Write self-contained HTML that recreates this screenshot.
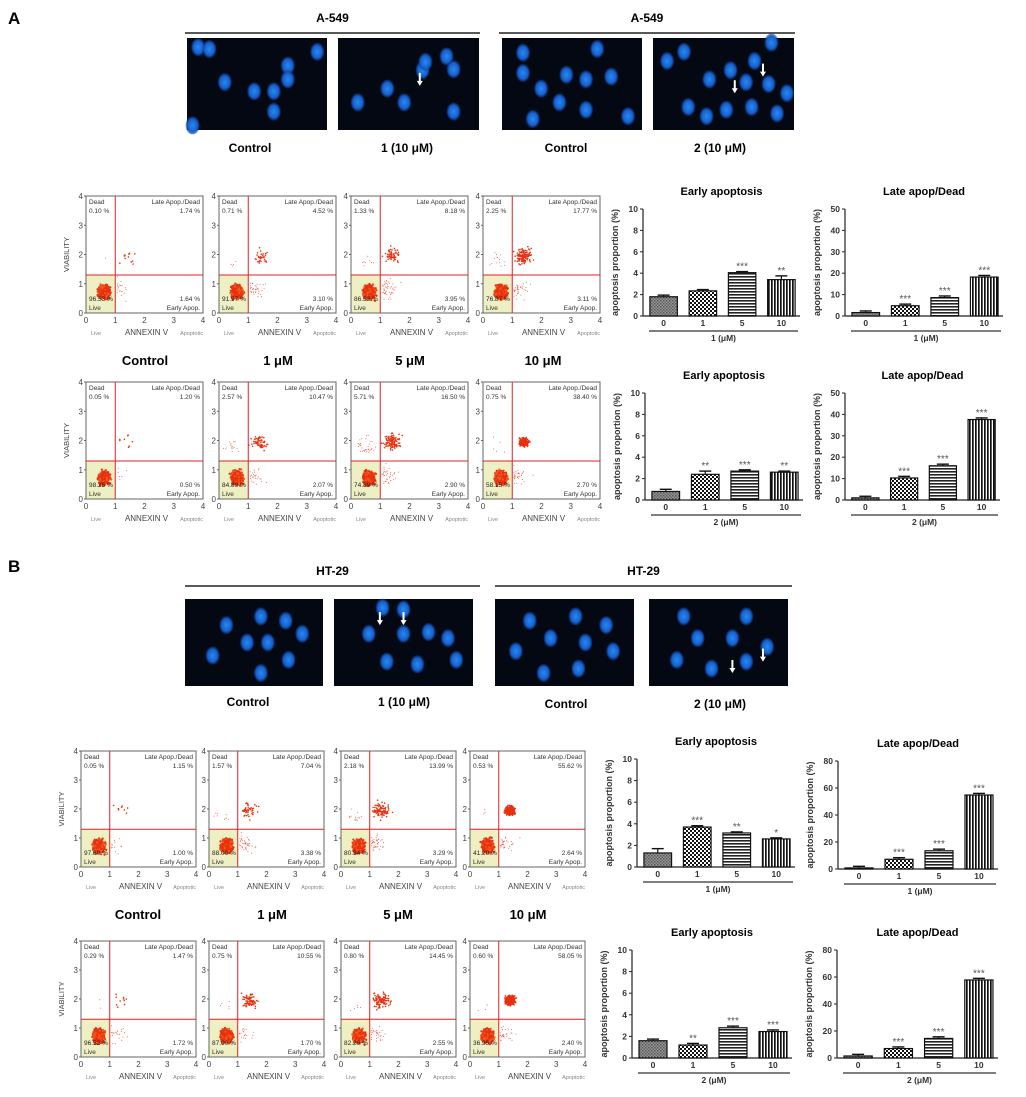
<!DOCTYPE html>
<html><head><meta charset="utf-8"><style>
body{margin:0;background:#fff}
svg{display:block;font-family:"Liberation Sans",Arial,sans-serif}
</style></head><body>
<svg id="fig" width="1026" height="1097" viewBox="0 0 1026 1097" xmlns="http://www.w3.org/2000/svg">
<defs>
<pattern id="p0" width="3" height="3" patternUnits="userSpaceOnUse"><rect width="3" height="3" fill="#999"/><rect width="1.5" height="1.5" fill="#555"/><rect x="1.5" y="1.5" width="1.5" height="1.5" fill="#666"/></pattern>
<pattern id="p1" width="4" height="4" patternUnits="userSpaceOnUse"><rect width="4" height="4" fill="#fff"/><rect width="2" height="2" fill="#111"/><rect x="2" y="2" width="2" height="2" fill="#111"/></pattern>
<pattern id="p5" width="4" height="3" patternUnits="userSpaceOnUse"><rect width="4" height="3" fill="#fff"/><rect width="4" height="1.6" fill="#222"/></pattern>
<pattern id="p10" width="3" height="4" patternUnits="userSpaceOnUse"><rect width="3" height="4" fill="#fff"/><rect width="1.7" height="4" fill="#111"/></pattern>
<radialGradient id="cellg"><stop offset="0" stop-color="#2a88f0"/><stop offset="0.7" stop-color="#1560cc"/><stop offset="1" stop-color="#0a3a90" stop-opacity="0.5"/></radialGradient>
</defs>
<g id="root"></g>
</svg>
<script>
// ---------- data ----------
const barCategories = ["0","1","5","10"];
const aEarly1 = [1.8, 2.35, 4.05, 3.4];
const aEarly1Err = [0.15, 0.12, 0.1, 0.35];
const aEarly1Stars = ["", "", "***", "**"];
const aLate1 = [1.6, 4.8, 8.6, 18.2];
const aLate1Stars = ["", "***", "***", "***"];
const aEarly2 = [0.8, 2.4, 2.7, 2.6];
const aEarly2Err = [0.2, 0.3, 0.12, 0.1];
const aEarly2Stars = ["", "**", "***", "**"];
const aLate2 = [1.0, 10.3, 16.0, 37.6];
const aLate2Stars = ["", "***", "***", "***"];
const bEarly1 = [1.3, 3.7, 3.15, 2.6];
const bEarly1Err = [0.4, 0.12, 0.1, 0.1];
const bEarly1Stars = ["", "***", "**", "*"];
const bLate1 = [0.8, 7.2, 13.5, 54.8];
const bLate1Stars = ["", "***", "***", "***"];
const bEarly2 = [1.6, 1.2, 2.8, 2.45];
const bEarly2Stars = ["", "**", "***", "***"];
const bLate2 = [1.5, 7.0, 14.5, 57.8];
const bLate2Stars = ["", "***", "***", "***"];
const earlyTicks = [0,2,4,6,8,10];
const lateTicksA = [0,10,20,30,40,50];
const lateTicksB = [0,20,40,60,80];

const flowDead = ["0.10","0.71","1.33","2.25","0.05","2.57","5.71","0.75","0.05","1.57","2.18","0.53","0.29","0.75","0.80","0.60"];
const flowLate = ["1.74","4.52","8.18","17.77","1.20","10.47","16.50","38.40","1.15","7.04","13.99","55.62","1.47","10.55","14.45","58.05"];
const flowLive = ["96.53","91.97","86.53","76.87","98.25","84.89","74.89","58.15","97.80","88.00","80.54","41.20","96.52","87.00","82.20","36.95"];
const flowEarly = ["1.64","3.10","3.95","3.11","0.50","2.07","2.90","2.70","1.00","3.38","3.29","2.64","1.72","1.70","2.55","2.40"];

// ---------- helpers ----------
const NS="http://www.w3.org/2000/svg";
const root=document.getElementById('root');
function mk(tag,attrs,parent,text){const e=document.createElementNS(NS,tag);for(const k in attrs)e.setAttribute(k,attrs[k]);if(text!==undefined)e.textContent=text;(parent||root).appendChild(e);return e;}
let seed=12345;function rnd(){seed=(seed*1103515245+12345)%2147483648;return seed/2147483648;}
function gauss(){return (rnd()+rnd()+rnd()+rnd()-2)/1.15;}

// ---------- headers & microscopy ----------
function panelLetter(t,x,y){const e=mk('text',{x:x,y:y,'font-size':17,'font-weight':'bold'},root,t);

}
panelLetter('A',8,24);panelLetter('B',8,572);

const cellSets=[
[[.08,.1],[.16,.12],[.93,.15],[.72,.3],[.72,.45],[.27,.48],[.48,.58],[.62,.58],[.62,.8],[.04,.95]],
[[.77,.2],[.6,.35],[.82,.34],[.35,.55],[.14,.7],[.47,.7],[.82,.8],[.62,.26]],
[[.15,.16],[.68,.12],[.15,.38],[.46,.4],[.6,.45],[.78,.42],[.28,.55],[.41,.7],[.6,.78],[.22,.88],[.9,.85]],
[[.1,.25],[.22,.15],[.55,.35],[.72,.25],[.84,.05],[.4,.45],[.66,.48],[.82,.5],[.95,.6],[.25,.75],[.38,.85],[.52,.78],[.7,.75],[.88,.82]],
[[.3,.3],[.55,.2],[.73,.25],[.45,.5],[.6,.5],[.85,.4],[.2,.65],[.75,.7],[.55,.85]],
[[.35,.1],[.5,.12],[.25,.4],[.5,.4],[.68,.38],[.82,.45],[.38,.72],[.6,.75],[.88,.7]],
[[.25,.25],[.58,.2],[.8,.3],[.4,.45],[.65,.5],[.15,.6],[.85,.6],[.35,.85],[.6,.8]],
[[.25,.2],[.7,.2],[.6,.45],[.35,.45],[.2,.7],[.45,.8],[.7,.72],[.85,.55]]
];
function micro(x,y,w,h,cells,name,arrows){
  const g=mk('g',{});
  
  
  mk('rect',{x:x,y:y,width:w,height:h,fill:'#040812'},g);
  cells.forEach(c=>{mk('ellipse',{cx:x+c[0]*w,cy:y+c[1]*h,rx:7,ry:9,fill:'url(#cellg)'},g);});
  (arrows||[]).forEach(a=>{mk('path',{d:`M${x+a[0]*w} ${y+a[1]*h} l-3 -5 l2 0 l0 -8 l2 0 l0 8 l2 0 z`,fill:'#fff'},g);});
}
function header(title,x1,x2,y,name){
  const g=mk('g',{});
  mk('text',{x:(x1+x2)/2,y:y,'text-anchor':'middle','font-size':12,'font-weight':'bold'},g,title);
  mk('line',{x1:x1,x2:x2,y1:y+11,y2:y+11,stroke:'#222','stroke-width':1.5},g);
}
function capt(t,x,y,name,size){const e=mk('text',{x:x,y:y,'text-anchor':'middle','font-size':size||12,'font-weight':'bold'},root,t);
}

header('A-549',185,480,22,'header-a549-1');header('A-549',499,795,22,'header-a549-2');
micro(187,38,140,92,cellSets[0],'image-a-control-1');
micro(338,38,141,92,cellSets[1],'image-a-cmpd1',[[.58,.52]]);
micro(502,38,140,92,cellSets[2],'image-a-control-2');
micro(653,38,141,92,cellSets[3],'image-a-cmpd2',[[.58,.6],[.78,.42]]);
capt('Control',250,152,'caption-a-control-1');capt('1 (10 μM)',407,152,'caption-a-cmpd1');
capt('Control',566,152,'caption-a-control-2');capt('2 (10 μM)',720,152,'caption-a-cmpd2');

header('HT-29',185,480,575,'header-ht29-1');header('HT-29',495,792,575,'header-ht29-2');
micro(185,599,138,87,cellSets[4],'image-b-control-1');
micro(334,599,139,87,cellSets[5],'image-b-cmpd1',[[.33,.3],[.5,.3]]);
micro(495,599,139,87,cellSets[6],'image-b-control-2');
micro(649,599,139,87,cellSets[7],'image-b-cmpd2',[[.6,.85],[.82,.72]]);
capt('Control',248,706,'caption-b-control-1');capt('1 (10 μM)',404,706,'caption-b-cmpd1');
capt('Control',566,708,'caption-b-control-2');capt('2 (10 μM)',720,708,'caption-b-cmpd2');

// ---------- flow plots ----------
function flow(i,x,y,w,h,showY){
  const g=mk('g',{});
  
  
  const sx=v=>x+v/4*w, sy=v=>y+h-v/4*h;
  mk('rect',{x:x,y:sy(1.3),width:sx(1)-x,height:y+h-sy(1.3),fill:'#eef0c4'},g);
  const late=parseFloat(flowLate[i]), early=parseFloat(flowEarly[i]), dead=parseFloat(flowDead[i]);
  for(let k=0;k<700;k++){mk('circle',{cx:sx(0.62+gauss()*0.17),cy:sy(0.72+gauss()*0.2),r:1.1,fill:k%3?'#e8300f':'#f05a20'},g);}
  const nl=Math.round(late*7);
  const tight=late>30?0.14:0.25;
  for(let k=0;k<nl;k++){mk('circle',{cx:sx(1.4+gauss()*tight*1.1),cy:sy(1.95+gauss()*tight),r:0.8,fill:'#e8300f'},g);}
  for(let k=0;k<Math.round(early*12);k++){mk('circle',{cx:sx(1.05+Math.abs(gauss())*0.5),cy:sy(0.8+gauss()*0.3),r:0.5,fill:'#e8503f'},g);}
  for(let k=0;k<Math.round(dead*6);k++){mk('circle',{cx:sx(0.5+gauss()*0.3),cy:sy(1.6+Math.abs(gauss())*0.5),r:0.5,fill:'#e8503f'},g);}
  mk('rect',{x:x,y:y,width:w,height:h,fill:'none',stroke:'#666','stroke-width':1},g);
  mk('line',{x1:sx(1),x2:sx(1),y1:y,y2:y+h,stroke:'#e02020','stroke-width':1},g);
  mk('line',{x1:x,x2:x+w,y1:sy(1.3),y2:sy(1.3),stroke:'#e02020','stroke-width':1},g);
  for(let t=0;t<=4;t++){
    mk('text',{x:x-3,y:sy(t)+3,'text-anchor':'end','font-size':8,fill:'#444'},g,String(t));
    mk('text',{x:sx(t),y:y+h+10,'text-anchor':'middle','font-size':8,fill:'#444'},g,String(t));
    mk('line',{x1:x-2,x2:x,y1:sy(t),y2:sy(t),stroke:'#666'},g);
  }
  const fs=6.5,fc='#333';
  mk('text',{x:x+3,y:y+8,'font-size':fs,fill:fc},g,'Dead');
  mk('text',{x:x+3,y:y+17,'font-size':fs,fill:fc},g,flowDead[i]+' %');
  mk('text',{x:x+w-3,y:y+8,'font-size':fs,fill:fc,'text-anchor':'end'},g,'Late Apop./Dead');
  mk('text',{x:x+w-3,y:y+17,'font-size':fs,fill:fc,'text-anchor':'end'},g,flowLate[i]+' %');
  mk('text',{x:x+3,y:y+h-12,'font-size':fs,fill:'#222'},g,flowLive[i]+' %');
  mk('text',{x:x+3,y:y+h-3,'font-size':fs,fill:fc},g,'Live');
  mk('text',{x:x+w-3,y:y+h-12,'font-size':fs,fill:fc,'text-anchor':'end'},g,flowEarly[i]+' %');
  mk('text',{x:x+w-3,y:y+h-3,'font-size':fs,fill:fc,'text-anchor':'end'},g,'Early Apop.');
  mk('text',{x:x+5,y:y+h+22,'font-size':5.5,fill:'#888'},g,'Live');
  mk('text',{x:x+w/2+2,y:y+h+22,'font-size':8,fill:'#444','text-anchor':'middle'},g,'ANNEXIN V');
  mk('text',{x:x+w,y:y+h+22,'font-size':5.5,fill:'#888','text-anchor':'end'},g,'Apoptotic');
  if(showY){mk('text',{x:0,y:0,'font-size':7.5,fill:'#444','text-anchor':'middle',transform:`translate(${x-17},${y+h/2}) rotate(-90)`},g,'VIABILITY');}
}
const flowXA=[86,219,351,483], flowXB=[81,209,341,470];
flowXA.forEach((x,j)=>flow(j,x,196,117,117,j===0));
flowXA.forEach((x,j)=>flow(4+j,x,382,117,117,j===0));
flowXB.forEach((x,j)=>flow(8+j,x,751,115,116,j===0));
flowXB.forEach((x,j)=>flow(12+j,x,941,115,116,j===0));
const doseLabels=['Control','1 μM','5 μM','10 μM'];
[145,278,410,543].forEach((cx,j)=>capt(doseLabels[j],cx,365,'dose-label-a-'+j,13));
[138,272,398,528].forEach((cx,j)=>capt(doseLabels[j],cx,919,'dose-label-b-'+j,13));

// ---------- bar charts ----------
function bars(name,ax,top,bot,xend,ticks,vals,errs,stars,title,unit){
  const g=mk('g',{});
  
  
  const ymax=ticks[ticks.length-1];
  const sy=v=>bot-(v/ymax)*(bot-top);
  const slot=(xend-ax)/4;
  const bw=slot*0.7;
  mk('text',{x:(ax+xend)/2,y:top-14,'text-anchor':'middle','font-size':11,'font-weight':'bold'},g,title);
  mk('line',{x1:ax,x2:ax,y1:top,y2:bot,stroke:'#222','stroke-width':1.2},g);
  mk('line',{x1:ax,x2:xend,y1:bot,y2:bot,stroke:'#222','stroke-width':1.2},g);
  ticks.forEach(t=>{mk('line',{x1:ax-3,x2:ax,y1:sy(t),y2:sy(t),stroke:'#222'},g);
    mk('text',{x:ax-5,y:sy(t)+3,'text-anchor':'end','font-size':8.5,'font-weight':'bold',fill:'#333'},g,String(t));});
  const pats=['p0','p1','p5','p10'];
  vals.forEach((v,k)=>{
    const cx=ax+slot*(k+0.5)+1, x0=cx-bw/2;
    const b=mk('rect',{x:x0,y:sy(v),width:bw,height:bot-sy(v),fill:`url(#${pats[k]})`,stroke:'#111','stroke-width':1.2},g);
    
    
    const e=errs?errs[k]:Math.max(0.015*ymax,v*0.02);
    mk('line',{x1:cx,x2:cx,y1:sy(v),y2:sy(v+e),stroke:'#111','stroke-width':1.2},g);
    mk('line',{x1:cx-6,x2:cx+6,y1:sy(v+e),y2:sy(v+e),stroke:'#111','stroke-width':1.4},g);
    if(stars[k])mk('text',{x:cx,y:sy(v+e)-2,'text-anchor':'middle','font-size':10,fill:'#555'},g,stars[k]);
    mk('text',{x:cx,y:bot+10,'text-anchor':'middle','font-size':8.5,'font-weight':'bold',fill:'#333'},g,barCategories[k]);
  });
  mk('line',{x1:ax+6,x2:xend-2,y1:bot+15,y2:bot+15,stroke:'#333','stroke-width':1.2},g);
  mk('text',{x:(ax+xend)/2+2,y:bot+25,'text-anchor':'middle','font-size':8.5,'font-weight':'bold',fill:'#333'},g,unit);
  mk('text',{x:0,y:0,'text-anchor':'middle','font-size':9,'font-weight':'bold',fill:'#333',transform:`translate(${ax-25},${(top+bot)/2}) rotate(-90)`},g,'apoptosis proportion (%)');
}
bars('chart-a-early-1',643,209,316,800,earlyTicks,aEarly1,aEarly1Err,aEarly1Stars,'Early apoptosis','1 (μM)');
bars('chart-a-late-1',845,209,316,1003,lateTicksA,aLate1,null,aLate1Stars,'Late apop/Dead','1 (μM)');
bars('chart-a-early-2',645,393,500,803,earlyTicks,aEarly2,aEarly2Err,aEarly2Stars,'Early apoptosis','2 (μM)');
bars('chart-a-late-2',845,393,500,1000,lateTicksA,aLate2,null,aLate2Stars,'Late apop/Dead','2 (μM)');
bars('chart-b-early-1',637,759,867,795,earlyTicks,bEarly1,bEarly1Err,bEarly1Stars,'Early apoptosis','1 (μM)');
bars('chart-b-late-1',838,761,869,998,lateTicksB,bLate1,null,bLate1Stars,'Late apop/Dead','1 (μM)');
bars('chart-b-early-2',632,950,1058,792,earlyTicks,bEarly2,null,bEarly2Stars,'Early apoptosis','2 (μM)');
bars('chart-b-late-2',837,950,1058,998,lateTicksB,bLate2,null,bLate2Stars,'Late apop/Dead','2 (μM)');
</script>
</body></html>
